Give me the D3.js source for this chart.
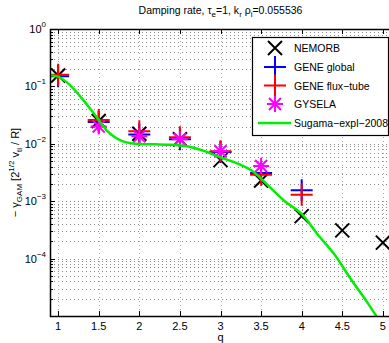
<!DOCTYPE html>
<html><head><meta charset="utf-8">
<script src="https://cdn.jsdelivr.net/npm/d3@7"></script>
<style>body{margin:0;background:#fff}svg{display:block;font-family:"Liberation Sans",Arial,sans-serif}</style>
</head><body><svg id="c" width="389" height="343"></svg>
<script>
const qTicks = [1, 1.5, 2, 2.5, 3, 3.5, 4, 4.5, 5];
const yTickExps = [0, -1, -2, -3, -4];
const nemorbQ = [1, 1.5, 2, 2.5, 3, 3.5, 4, 4.5, 5];
const nemorbV = [0.155, 0.025, 0.015, 0.012, 0.0052, 0.0023, 0.00055, 0.00031, 0.00019];
const geneGlobalQ = [1, 1.5, 2, 2.5, 3, 3.5, 4];
const geneGlobalV = [0.15, 0.024, 0.0145, 0.012, 0.0072, 0.0031, 0.00155];
const geneFluxQ = [1, 1.5, 2, 2.5, 3, 3.5, 4];
const geneFluxV = [0.16, 0.026, 0.0165, 0.013, 0.0074, 0.0029, 0.0013];
const gyselaQ = [1.5, 2, 2.5, 3, 3.5];
const gyselaV = [0.020, 0.0135, 0.012, 0.0074, 0.0041];
const sugamaQ = [0.9, 1, 1.1, 1.2, 1.3, 1.4, 1.5, 1.6, 1.7, 1.8, 1.9, 2.0, 2.2, 2.4, 2.6, 2.8, 3.0, 3.2, 3.4, 3.6, 3.8, 4.0, 4.2, 4.4, 4.6, 4.8, 4.95];
const sugamaV = [0.157, 0.148, 0.12, 0.088, 0.06, 0.04, 0.026, 0.017, 0.013, 0.011, 0.0102, 0.0099, 0.0098, 0.0096, 0.009, 0.0075, 0.0058, 0.0046, 0.0033, 0.0018, 0.00098, 0.0006, 0.00026, 0.00012, 0.000045, 0.000018, 0.0000085];
const legendLabels = ["NEMORB", "GENE global", "GENE flux\u2212tube", "GYSELA", "Sugama\u2212expl\u22122008"];

const svg = d3.select("#c");
const L = 50, R = 391, T = 29, B = 316;
const x = d3.scaleLinear().domain([0.9, 5.1]).range([L, R]);
const y = d3.scaleLog().domain([1e-5, 1]).range([B, T]);

svg.append("defs").append("clipPath").attr("id", "clip")
  .append("rect").attr("x", L).attr("y", T).attr("width", R - L).attr("height", B - T);

// grid
const grid = svg.append("g");
const minorVals = [];
for (let e = -5; e < 0; e++) for (let m = 1; m <= 9; m++) minorVals.push(m * Math.pow(10, e));
minorVals.push(1);
grid.selectAll("line.h").data(minorVals).join("line")
  .attr("x1", L).attr("x2", R).attr("y1", d => Math.round(y(d)) + 0.5).attr("y2", d => Math.round(y(d)) + 0.5)
  .attr("stroke", "#8a8a8a").attr("stroke-width", 1).attr("stroke-dasharray", "1,3");
grid.selectAll("line.v").data(qTicks).join("line")
  .attr("y1", T).attr("y2", B).attr("x1", d => Math.round(x(d)) + 0.5).attr("x2", d => Math.round(x(d)) + 0.5)
  .attr("stroke", "#aaa").attr("stroke-width", 1).attr("stroke-dasharray", "1,3");

// axes ticks (inward)
const ax = svg.append("g").attr("stroke", "#000").attr("stroke-width", 1);
qTicks.forEach(q => {
  const xx = Math.round(x(q)) + 0.5;
  ax.append("line").attr("x1", xx).attr("x2", xx).attr("y1", B).attr("y2", B - 5);
  ax.append("line").attr("x1", xx).attr("x2", xx).attr("y1", T).attr("y2", T + 5);
});
minorVals.forEach(v => {
  const yy = Math.round(y(v)) + 0.5;
  const major = Math.abs(Math.log10(v) - Math.round(Math.log10(v))) < 1e-9;
  ax.append("line").attr("x1", L).attr("x2", L + (major ? 5 : 3)).attr("y1", yy).attr("y2", yy);
});

// tick labels
svg.append("g").selectAll("text").data(qTicks).join("text")
  .attr("x", d => x(d)).attr("y", 330).attr("text-anchor", "middle")
  .attr("font-size", 11).attr("fill", "#000").text(d => d);
const yl = svg.append("g");
yTickExps.forEach(e => {
  const t = yl.append("text").attr("x", 46).attr("y", y(Math.pow(10, e)) + 4).attr("text-anchor", "end")
    .attr("font-size", 11).attr("fill", "#000");
  t.append("tspan").text("10");
  t.append("tspan").attr("dy", -6).attr("font-size", 8).text(e === 0 ? "0" : "\u2212" + (-e));
});

// x label
svg.append("text").attr("x", x(3)).attr("y", 341).attr("text-anchor", "middle").attr("font-size", 11).text("q");

// y label
const ylab = svg.append("text").attr("transform", "translate(19," + ((T + B) / 2) + ") rotate(-90)")
  .attr("text-anchor", "middle").attr("font-size", 11).attr("fill", "#000");
ylab.append("tspan").text("\u2212 \u03B3");
ylab.append("tspan").attr("dy", 3).attr("font-size", 8).text("GAM");
ylab.append("tspan").attr("dy", -3).text(" [2");
ylab.append("tspan").attr("dy", -5).attr("font-size", 8).text("1/2");
ylab.append("tspan").attr("dy", 5).text(" v");
ylab.append("tspan").attr("dy", 3).attr("font-size", 8).text("ti");
ylab.append("tspan").attr("dy", -3).text(" / R]");

// title
const title = svg.append("text").attr("x", (L + R) / 2).attr("y", 14).attr("text-anchor", "middle")
  .attr("font-size", 10.5).attr("fill", "#000");
title.append("tspan").text("Damping rate, \u03C4");
title.append("tspan").attr("dy", 3).attr("font-size", 8).text("e");
title.append("tspan").attr("dy", -3).text("=1, k");
title.append("tspan").attr("dy", 3).attr("font-size", 8).text("r");
title.append("tspan").attr("dy", -3).text(" \u03C1");
title.append("tspan").attr("dy", 3).attr("font-size", 8).text("i");
title.append("tspan").attr("dy", -3).text("=0.055536");

// markers
function drawX(g, cx, cy, s, col) {
  g.append("path").attr("d", `M${cx - s},${cy - s}L${cx + s},${cy + s}M${cx - s},${cy + s}L${cx + s},${cy - s}`)
    .attr("stroke", col).attr("stroke-width", 2).attr("fill", "none");
}
function drawPlus(g, cx, cy, s, col) {
  g.append("path").attr("d", `M${cx - s},${cy}L${cx + s},${cy}M${cx},${cy - s}L${cx},${cy + s}`)
    .attr("stroke", col).attr("stroke-width", 2).attr("fill", "none");
}
function drawStar(g, cx, cy, s, col) {
  const d = s * 0.75;
  g.append("path").attr("d", `M${cx - s},${cy}L${cx + s},${cy}M${cx},${cy - s}L${cx},${cy + s}M${cx - d},${cy - d}L${cx + d},${cy + d}M${cx - d},${cy + d}L${cx + d},${cy - d}`)
    .attr("stroke", col).attr("stroke-width", 2).attr("fill", "none");
}
const plot = svg.append("g").attr("clip-path", "url(#clip)");
nemorbQ.forEach((q, i) => drawX(plot, x(q), y(nemorbV[i]), 7, "#000"));
geneGlobalQ.forEach((q, i) => drawPlus(plot, x(q), y(geneGlobalV[i]), 11, "#0000ff"));
geneFluxQ.forEach((q, i) => drawPlus(plot, x(q), y(geneFluxV[i]), 11, "#ff0000"));
gyselaQ.forEach((q, i) => drawStar(plot, x(q), y(gyselaV[i]), 8, "#ff00ff"));
const line = d3.line().x(d => x(d[0])).y(d => y(d[1])).curve(d3.curveMonotoneX);
plot.append("path").datum(sugamaQ.map((q, i) => [q, sugamaV[i]])).attr("d", line)
  .attr("stroke", "#00ee00").attr("stroke-width", 2.5).attr("fill", "none");

// frame
svg.append("rect").attr("x", L + 0.5).attr("y", T + 0.5).attr("width", R - L).attr("height", B - T)
  .attr("fill", "none").attr("stroke", "#000").attr("stroke-width", 1.5);

// legend
const lg = svg.append("g");
lg.append("rect").attr("x", 252.5).attr("y", 37.5).attr("width", 136).attr("height", 98)
  .attr("fill", "#fff").attr("stroke", "#000").attr("stroke-width", 1.2);
const ly = [48, 67, 85.5, 104, 123];
drawX(lg, 275, ly[0], 7, "#000");
drawPlus(lg, 275, ly[1], 11, "#0000ff");
drawPlus(lg, 275, ly[2], 11, "#ff0000");
drawStar(lg, 275, ly[3], 8, "#ff00ff");
lg.append("line").attr("x1", 258).attr("x2", 291).attr("y1", ly[4]).attr("y2", ly[4])
  .attr("stroke", "#00ee00").attr("stroke-width", 2.5);
legendLabels.forEach((t, i) => {
  lg.append("text").attr("x", 294).attr("y", ly[i] + 4).attr("font-size", 10.5).attr("fill", "#000").text(t);
});
</script></body></html>
